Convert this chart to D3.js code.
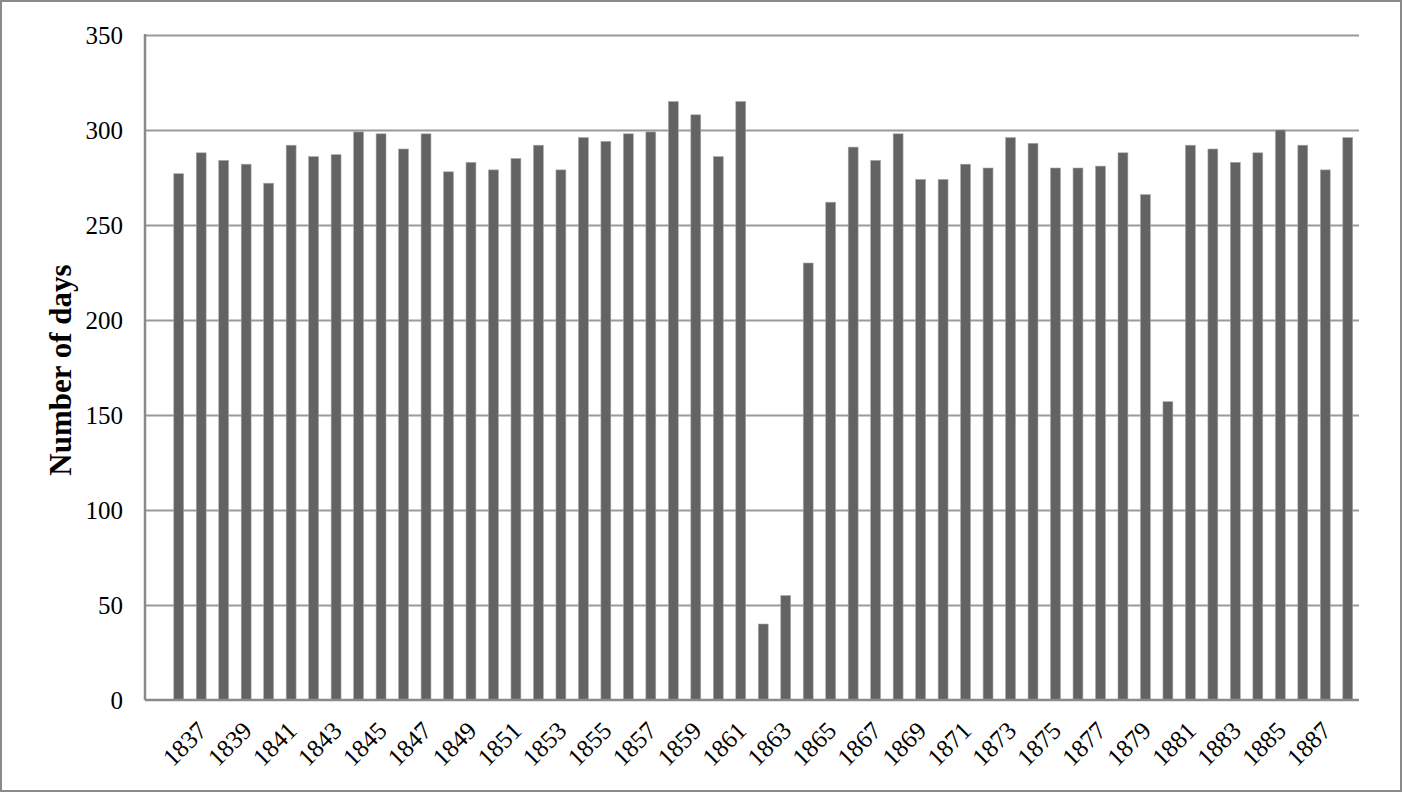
<!DOCTYPE html>
<html>
<head>
<meta charset="utf-8">
<script src="https://cdn.jsdelivr.net/npm/d3@7/dist/d3.min.js"></script>
<style>
  html, body { margin: 0; padding: 0; background: #fff; }
  svg { display: block; }
  text { font-family: "Liberation Serif", "Times New Roman", serif; fill: #000; }
</style>
</head>
<body>
<svg id="chart" width="1402" height="792"></svg>
<script>
// ---- data ----
const years = [1836, 1837, 1838, 1839, 1840, 1841, 1842, 1843, 1844, 1845,
               1846, 1847, 1848, 1849, 1850, 1851, 1852, 1853, 1854, 1855,
               1856, 1857, 1858, 1859, 1860, 1861, 1862, 1863, 1864, 1865,
               1866, 1867, 1868, 1869, 1870, 1871, 1872, 1873, 1874, 1875,
               1876, 1877, 1878, 1879, 1880, 1881, 1882, 1883, 1884, 1885,
               1886, 1887, 1888];
const days = [277, 288, 284, 282, 272, 292, 286, 287, 299, 298,
              290, 298, 278, 283, 279, 285, 292, 279, 296, 294,
              298, 299, 315, 308, 286, 315, 40, 55, 230, 262,
              291, 284, 298, 274, 274, 282, 280, 296, 293, 280,
              280, 281, 288, 266, 157, 292, 290, 283, 288, 300,
              292, 279, 296];
const xTickLabels = ["1837", "1839", "1841", "1843", "1845", "1847", "1849",
                     "1851", "1853", "1855", "1857", "1859", "1861", "1863",
                     "1865", "1867", "1869", "1871", "1873", "1875", "1877",
                     "1879", "1881", "1883", "1885", "1887"];
const yTicks = [0, 50, 100, 150, 200, 250, 300, 350];
const yTitle = "Number of days";

// ---- layout ----
const svg = d3.select("#chart");
const W = 1402, H = 792;
const plot = { left: 145, right: 1359, top: 35, bottom: 700 };

svg.append("rect").attr("x", 1).attr("y", 1).attr("width", W - 2).attr("height", H - 2)
  .attr("fill", "#fff").attr("stroke", "#8a8a8a").attr("stroke-width", 2);

const categories = [""].concat(years.map(String));
const x = d3.scaleBand()
  .domain(categories)
  .range([plot.left, plot.right])
  .paddingInner(0.56)
  .paddingOuter(0.28);

const y = d3.scaleLinear().domain([0, 350]).range([plot.bottom, plot.top]);

// gridlines
const grid = svg.append("g")
  .attr("transform", `translate(${plot.left},0)`)
  .call(d3.axisLeft(y).tickValues(yTicks.filter(v => v > 0)).tickSize(-(plot.right - plot.left)).tickFormat(""));
grid.select(".domain").remove();
grid.selectAll("line").attr("stroke", "#9a9a9a").attr("stroke-width", 2);

// bars
svg.append("g").selectAll("rect")
  .data(years.map((yr, i) => ({ yr: String(yr), v: days[i] })))
  .join("rect")
  .attr("x", d => x(d.yr))
  .attr("width", x.bandwidth())
  .attr("y", d => y(d.v))
  .attr("height", d => y(0) - y(d.v))
  .attr("fill", "#636363")
  .attr("stroke", "#a8a8a8")
  .attr("stroke-width", 0.6);

// y axis
const yAxis = svg.append("g")
  .attr("transform", `translate(${plot.left},0)`)
  .call(d3.axisLeft(y).tickValues(yTicks).tickSize(0).tickPadding(22));
yAxis.select(".domain").attr("stroke", "#8a8a8a").attr("stroke-width", 2.5)
  .attr("d", `M0,${plot.top - 1}V${plot.bottom}`);
yAxis.selectAll("text").attr("font-size", 25).style("font-size", "25px");

// x axis
const xAxis = svg.append("g")
  .attr("transform", `translate(0,${plot.bottom})`)
  .call(d3.axisBottom(x).tickValues(xTickLabels).tickSize(0));
xAxis.select(".domain").attr("stroke", "#8a8a8a").attr("stroke-width", 2.5)
  .attr("d", `M${plot.left},0H${plot.right}`);
xAxis.attr("font-size", 25);
xAxis.selectAll(".tick text")
  .attr("y", 0).attr("dy", "0.35em")
  .attr("text-anchor", "end")
  .attr("transform", "translate(1,26) rotate(-45)")
  .style("font-size", "25px");

// y title
svg.append("text")
  .attr("transform", `translate(71,370) rotate(-90)`)
  .attr("text-anchor", "middle")
  .style("font-size", "31px")
  .style("font-weight", "bold")
  .text(yTitle);
</script>
</body>
</html>
